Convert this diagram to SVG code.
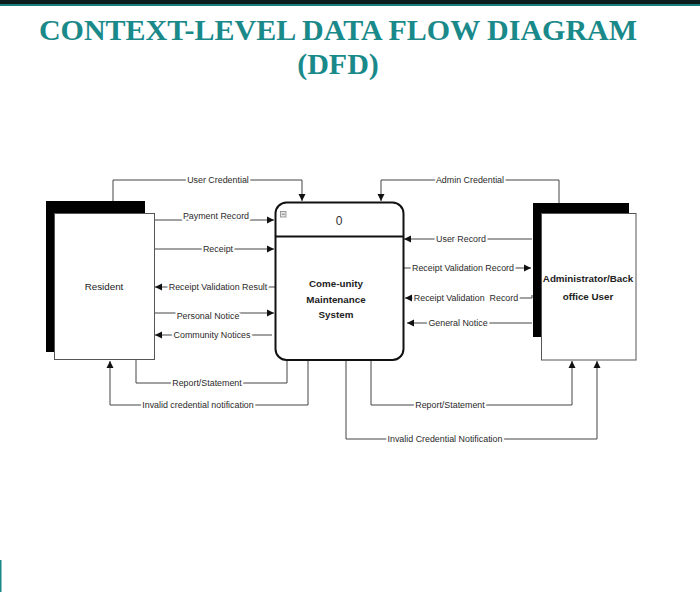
<svg xmlns="http://www.w3.org/2000/svg" width="700" height="592" viewBox="0 0 700 592">
<defs>
<marker id="arr" markerWidth="8" markerHeight="8" refX="7" refY="4" orient="auto" markerUnits="userSpaceOnUse">
<path d="M0,0.5 L7,4 L0,7.5 Z" fill="#111"/>
</marker>
<style>
.title{font-family:"Liberation Serif","Times New Roman",serif;font-weight:bold;font-size:30px;fill:#19898a;text-anchor:middle}
.conn{fill:none;stroke:#444;stroke-width:1}
.lbl{font-family:"Liberation Sans",Arial,sans-serif;font-size:8.9px;fill:#2a2a2a;text-anchor:middle;dominant-baseline:central;paint-order:stroke;stroke:#fff;stroke-width:4px;stroke-linejoin:round}
.ntext{font-family:"Liberation Sans",Arial,sans-serif;font-size:9.8px;fill:#222;text-anchor:middle;dominant-baseline:central}
.bold{font-weight:bold}
.shadow{fill:#000}
.ent{fill:#fff;stroke:#555;stroke-width:1}
</style>
</defs>
<rect x="0" y="0" width="700" height="592" fill="#fff"/>
<rect x="0" y="0" width="700" height="4" fill="#0d1c1c"/>
<rect x="0" y="4" width="700" height="2" fill="#1a7f7a"/>
<rect x="0" y="560" width="1.5" height="32" fill="#1a8a88"/>
<text class="title" x="338" y="40">CONTEXT-LEVEL DATA FLOW DIAGRAM</text>
<text class="title" x="338" y="74">(DFD)</text>

<g id="connectors">
<path class="conn" d="M113,201 V180 H302 V201" marker-end="url(#arr)"/>
<text class="lbl" x="218" y="180">User Credential</text>
<path class="conn" d="M559,203 V180 H381 V201" marker-end="url(#arr)"/>
<text class="lbl" x="470" y="180">Admin Credential</text>

<path class="conn" d="M154,220 H274" marker-end="url(#arr)"/>
<text class="lbl" x="216" y="216">Payment Record</text>
<path class="conn" d="M154,249 H274" marker-end="url(#arr)"/>
<text class="lbl" x="218" y="249">Receipt</text>
<path class="conn" d="M276,287 H155" marker-end="url(#arr)"/>
<text class="lbl" x="218" y="287">Receipt Validation Result</text>
<path class="conn" d="M154,313 H274" marker-end="url(#arr)"/>
<text class="lbl" x="208" y="316">Personal Notice</text>
<path class="conn" d="M272,335 H155" marker-end="url(#arr)"/>
<text class="lbl" x="212" y="335">Community Notices</text>

<path class="conn" d="M532,239 H404" marker-end="url(#arr)"/>
<text class="lbl" x="461" y="239">User Record</text>
<path class="conn" d="M404,268 H531" marker-end="url(#arr)"/>
<text class="lbl" x="463" y="268">Receipt Validation Record</text>
<path class="conn" d="M532,295 V298 H405" marker-end="url(#arr)"/>
<rect x="415" y="293" width="103" height="10" fill="#fff"/>
<text class="lbl" x="466" y="298" xml:space="preserve">Receipt Validation  Record</text>
<path class="conn" d="M532,323 H407" marker-end="url(#arr)"/>
<text class="lbl" x="458" y="323">General Notice</text>

<path class="conn" d="M287,360 V383 H136 V360"/>
<text class="lbl" x="207" y="383">Report/Statement</text>
<path class="conn" d="M308,360 V405 H110 V361" marker-end="url(#arr)"/>
<text class="lbl" x="198" y="405">Invalid credential notification</text>
<path class="conn" d="M371,360 V405 H572 V361" marker-end="url(#arr)"/>
<text class="lbl" x="450" y="405">Report/Statement</text>
<path class="conn" d="M346,360 V439 H597 V361" marker-end="url(#arr)"/>
<text class="lbl" x="445" y="439">Invalid Credential Notification</text>
</g>

<g id="resident">
<rect class="shadow" x="46" y="201" width="99" height="151"/>
<rect class="ent" x="54.5" y="213.5" width="100" height="146"/>
<text class="ntext" x="104" y="286">Resident</text>
</g>

<g id="admin">
<rect class="shadow" x="533" y="203" width="96" height="134"/>
<rect class="ent" x="541.5" y="213.5" width="94.5" height="146.5"/>
<text class="ntext bold" x="588" y="278">Administrator/Back</text>
<text class="ntext bold" x="588" y="296">office User</text>
</g>

<g id="process">
<rect x="275.5" y="202.5" width="128" height="157.5" rx="11" ry="11" fill="#fff" stroke="#111" stroke-width="2"/>
<line x1="275.5" y1="236.5" x2="403.5" y2="236.5" stroke="#111" stroke-width="2"/>
<rect x="280.5" y="211.5" width="5.5" height="5.5" fill="#e6e6e6" stroke="#888" stroke-width="0.8"/>
<line x1="281.8" y1="214.2" x2="284.8" y2="214.2" stroke="#666" stroke-width="0.8"/>
<text x="339" y="221" font-family="Liberation Sans, Arial, sans-serif" font-size="12" fill="#333" text-anchor="middle" dominant-baseline="central">0</text>
<text class="ntext bold" x="336" y="283">Come-unity</text>
<text class="ntext bold" x="336" y="299">Maintenance</text>
<text class="ntext bold" x="336" y="314">System</text>
</g>
</svg>
